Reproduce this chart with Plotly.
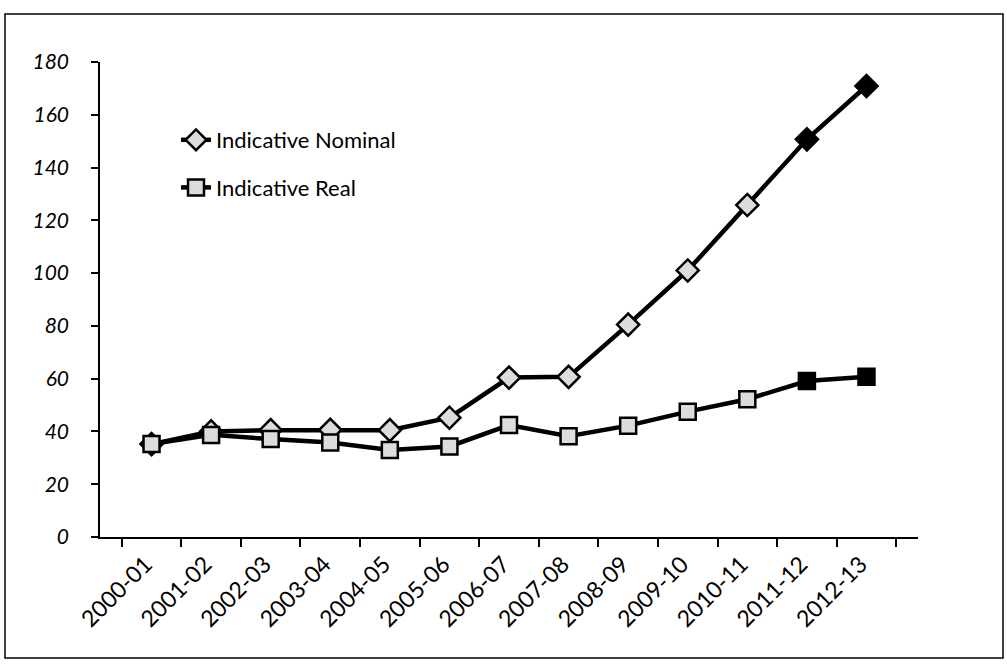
import plotly.graph_objects as go

years = ["2000-01", "2001-02", "2002-03", "2003-04", "2004-05", "2005-06", "2006-07",
         "2007-08", "2008-09", "2009-10", "2010-11", "2011-12", "2012-13"]
nominal = [35.2, 40.0, 40.5, 40.6, 40.5, 45.2, 60.4, 60.7, 80.5, 101.0, 125.8, 150.7, 170.9]
real = [35.2, 38.7, 37.1, 35.8, 33.0, 34.3, 42.4, 38.2, 42.2, 47.5, 52.2, 59.1, 60.7]
y_ticks = [0, 20, 40, 60, 80, 100, 120, 140, 160, 180]

FONT = "Lato"
light = "#dcdcdc"
fill_colors = [light] * (len(years) - 2) + ["black", "black"]

fig = go.Figure()
fig.add_trace(go.Scatter(
    x=years, y=nominal, name="Indicative Nominal", mode="lines+markers",
    legendgroup="a",
    line=dict(color="black", width=4.5),
    marker=dict(symbol="diamond", size=17, color=fill_colors,
                line=dict(color="black", width=2.5)),
))
fig.add_trace(go.Scatter(
    x=years, y=real, name="Indicative Real", mode="lines+markers",
    legendgroup="b",
    line=dict(color="black", width=4.5),
    marker=dict(symbol="square", size=16, color=fill_colors,
                line=dict(color="black", width=2.5)),
))

W, H = 1007, 665
L, R, T, B = 100, 89, 62, 128
pw, ph = W - L - R, H - T - B

def px(x):
    return (x - L) / pw

def py(y):
    return (H - B - y) / ph

fig.add_shape(type="rect", xref="paper", yref="paper",
              x0=px(5), x1=px(1003), y0=py(658), y1=py(14),
              line=dict(color="black", width=1.5), layer="below")

fig.update_layout(
    width=W, height=H,
    margin=dict(l=L, r=R, t=T, b=B),
    paper_bgcolor="white", plot_bgcolor="white",
    font=dict(family=FONT, color="black"),
    showlegend=True,
    legend=dict(x=px(176), y=py(119), xanchor="left", yanchor="top",
                font=dict(family=FONT, size=22, color="black"),
                bgcolor="rgba(0,0,0,0)", tracegroupgap=16,
                traceorder="grouped"),
    xaxis=dict(
        type="category", showgrid=False, showline=True, linecolor="black", linewidth=1.5,
        ticks="outside", ticklen=8, tickcolor="black", tickwidth=1.5,
        tickson="boundaries", tickangle=-45,
        ticklabelshift=-6, ticklabelstandoff=3,
        tickfont=dict(family=FONT, size=23, color="black"),
        zeroline=False,
    ),
    yaxis=dict(
        range=[0, 180], tickvals=y_ticks, showgrid=False, showline=True,
        linecolor="black", linewidth=1.5,
        ticks="outside", ticklen=7, tickcolor="black", tickwidth=1.5,
        ticklabelstandoff=18,
        tickfont=dict(family=FONT, size=21, color="black", style="italic"),
        zeroline=False,
    ),
)

fig.write_html("out.html")
